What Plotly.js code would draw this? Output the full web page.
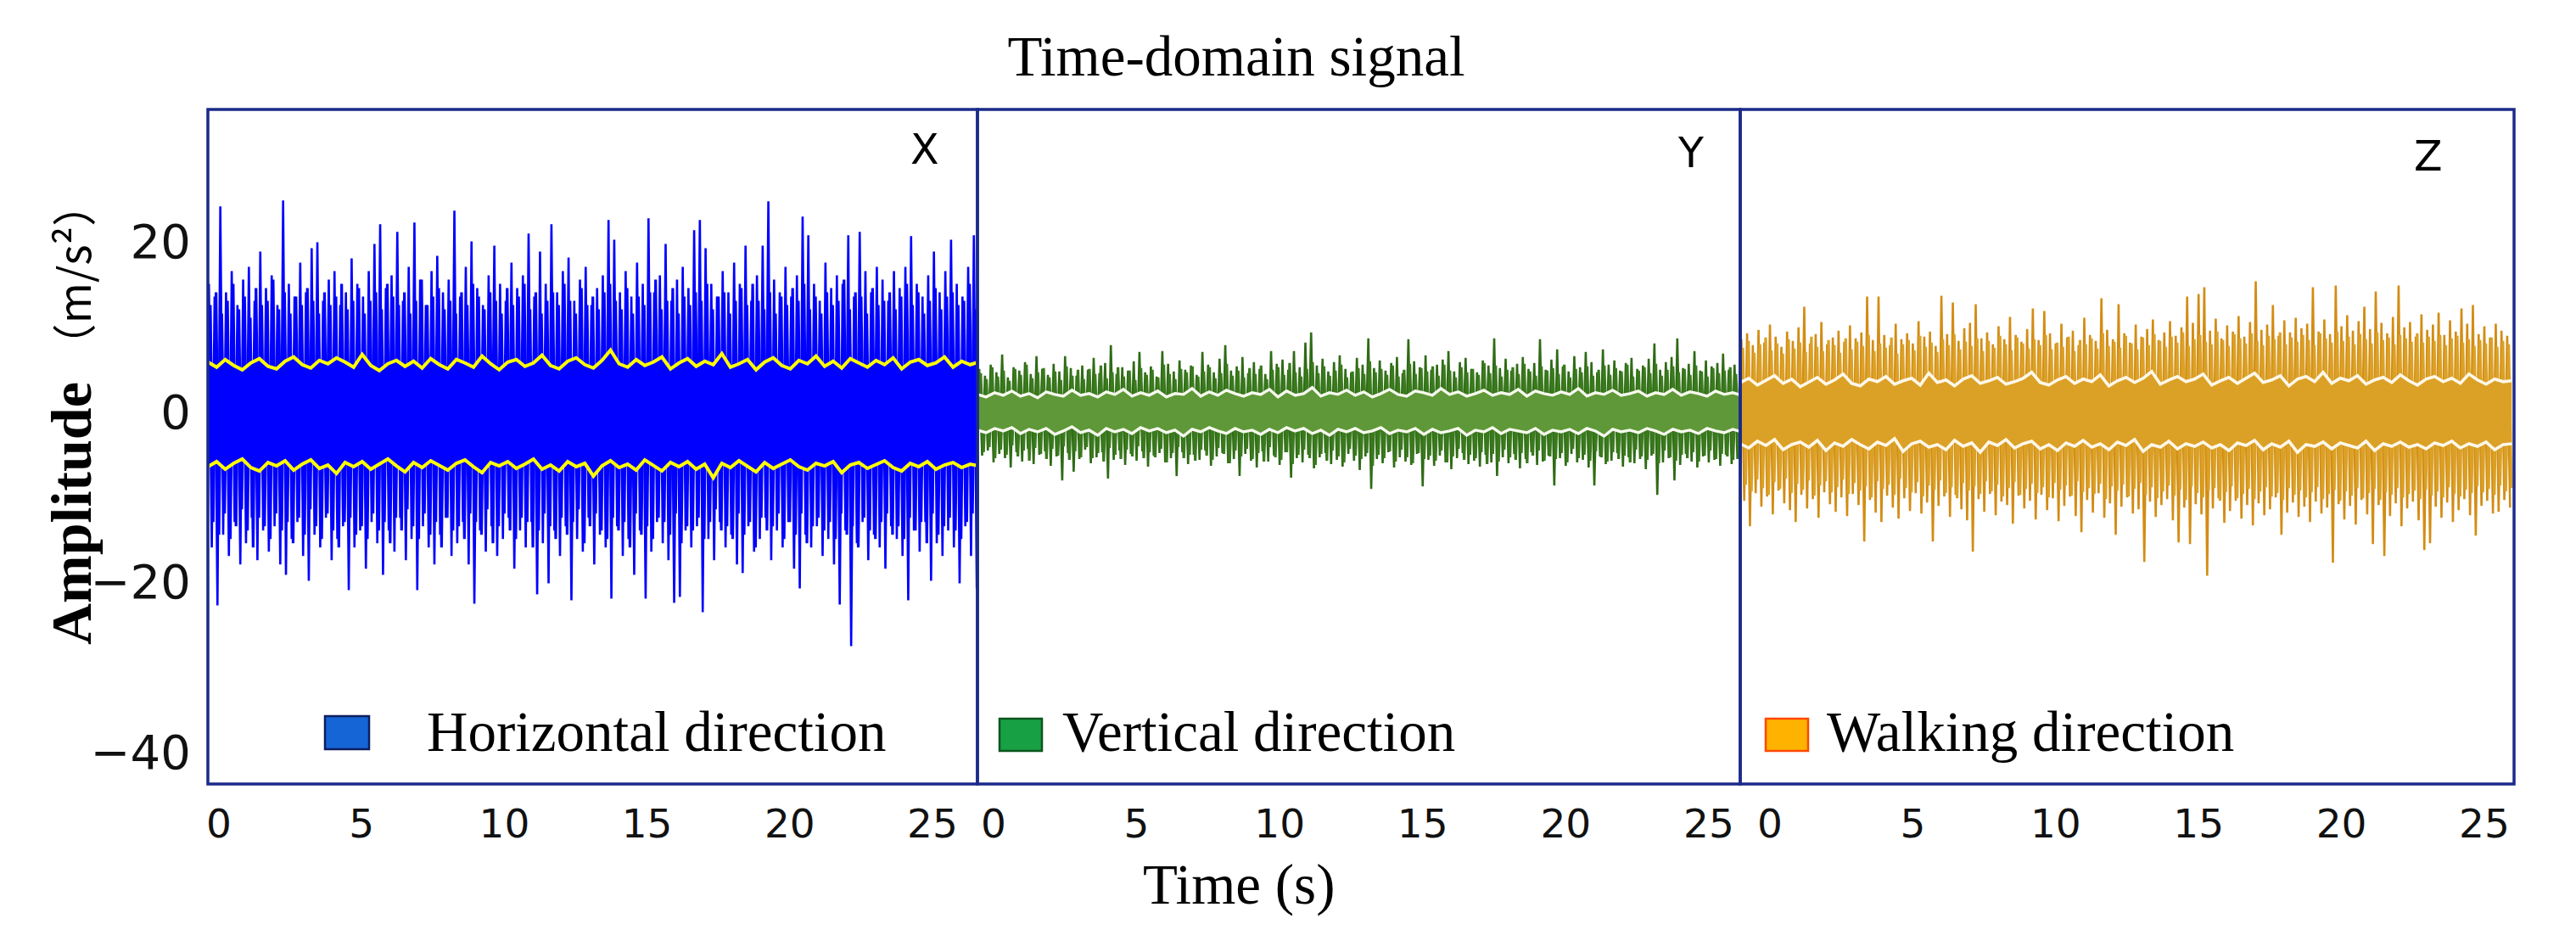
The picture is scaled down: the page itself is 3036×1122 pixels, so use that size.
<!DOCTYPE html>
<html>
<head>
<meta charset="utf-8">
<script src="https://cdn.plot.ly/plotly-3.0.1.min.js"></script>
<style>html,body{margin:0;padding:0;background:#fff;}#chart{width:3036px;height:1122px;}</style>
</head>
<body>
<div id="chart"></div>
<script>
// ---------------- DATA ----------------
const panelNames = ["X", "Y", "Z"];
const legendNames = ["Horizontal direction", "Vertical direction", "Walking direction"];
const xTickVals = [0, 5, 10, 15, 20, 25];
const yTickVals = [20, 0, -20, -40];

// Sampling of the envelopes (seconds)
const SIG_DT = 0.2, LINE_DT = 0.3;
const SIG_T0 = [-0.35, -0.5, -1.0];
const LINE_T0 = [-0.38, -0.56, -1.04];

// X (horizontal): outer spike tops / bottoms
const X_TOP = [15,13.5,24.1,14,16.5,12.5,15.5,17,13,18.8,
14.5,16,12.5,24.8,15,13.5,17.5,14,19.2,19.9,
13,15.5,16.5,12.5,14,18,15,13.5,16.5,19.7,
22,14.5,16,21.1,13,17,22.2,15.5,12.5,16.5,
18.3,14,15.5,23.6,13.5,17,20,14.5,12.5,16,
19.5,15,13,17.5,14.5,16,20.9,13.5,18.8,15,
22,14,16.5,18.1,13,15.5,17,12.5,14.5,16,
22.5,20.2,14,16.5,13.5,17.5,15,22.7,14,16,
19.7,13,15.5,17,14.5,21.3,22.5,19.2,15,13.5,
16.5,14,17.5,15,19.5,13,16,19.5,24.7,15.5,
14,17,13.5,16,22.9,20.7,15,13,17.5,14.5,
16,15,20.7,13.5,21.1,16.5,14,17,15.5,13,
16.5,14.5,17,20.6,15,13.5,16,18.8,14,16.5,
20.2,15,13.5,17,20.7];
const X_BOT = [-16,-22.8,-14.5,-17,-13,-18,-15.5,-12.5,-17.5,-14,
-16.5,-13.5,-18,-19.2,-15,-13,-17,-19.9,-14.5,-16,
-12.5,-17.5,-15,-13.5,-21,-16,-14,-18.5,-13,-15.5,
-19.2,-14,-16.5,-12.5,-17.5,-15,-21,-13.5,-16,-18,
-14.5,-12.5,-17,-15.5,-13,-18,-22.6,-14,-16.5,-13.5,
-17,-15,-12.5,-18.5,-14,-16,-13,-21.5,-15.5,-20.2,
-14,-17,-13.5,-22.2,-15,-16.5,-12.5,-18,-14.5,-16,
-22,-13.5,-17,-15,-19.2,-14,-22,-16.5,-13,-15.5,
-17.5,-22.5,-21.8,-14,-16,-13.5,-23.6,-15,-17.5,-13,
-16,-14.5,-18,-19,-13.5,-16.5,-15,-12.5,-17.5,-14,
-16,-13,-18.5,-20.8,-14.5,-16,-13.5,-17,-15,-18,
-22.7,-14,-27.6,-15.5,-13,-17.5,-14.5,-16,-18.5,-13.5,
-15,-17,-22.2,-14,-16.5,-13,-19.9,-15.5,-17,-14,
-16,-20.2,-13.5,-17,-20.8];
// X: dense inner band tops / bottoms
const X_MID_TOP = [12.5,14,11.5,13,15,12,13.5,11,14.5,12.5,
13,15.5,12,14,11.5,13.5,12.5,14.5,13,11.5,
14,12.5,13.5,15,12,13,14.5,11.5,13,14,
12,15,13.5,12.5,14,11.5,13,15.5,12.5,13.5,
14.5,12,13,11.5,14,12.5,15,13.5,12,14,
13,11.5,14.5,12.5,13.5,15,12,14,11.5,13,
14,12.5,15,13,11.5,14.5,12.5,13.5,12,14,
15,13,12,14.5,11.5,13.5,12.5,14,15.5,12,
13,14.5,11.5,13.5,12.5,14,13,15,12,13.5,
14,11.5,13,14.5,12.5,15,13,12,14,11.5,
13.5,12.5,14.5,13,15,12,13.5,11.5,14,12.5,
13,15.5,12,14,13.5,11.5,14.5,12.5,13,14,
12,13.5,15,12.5,14,11.5,13,14.5,12,13.5,
14,12.5,13,15,12];
const X_MID_BOT = [-13,-14.5,-12,-15,-13.5,-11.5,-14,-16,-12.5,-13.5,
-15,-12,-14,-13,-15.5,-12.5,-14.5,-11.5,-13.5,-15,
-12,-14,-16,-13,-12.5,-14.5,-13.5,-15,-12,-14,
-13,-15.5,-12.5,-14,-11.5,-13.5,-15,-12,-14.5,-13,
-16,-12.5,-14,-13.5,-15,-12,-13,-14.5,-11.5,-15.5,
-13.5,-12,-14,-15,-12.5,-13,-16,-14,-12,-13.5,
-15,-12.5,-14.5,-13,-11.5,-15.5,-13.5,-12,-14,-15,
-12.5,-14,-13,-16,-12,-14.5,-13.5,-15,-12.5,-13,
-14.5,-12,-15.5,-13.5,-14,-12.5,-15,-13,-11.5,-14,
-13.5,-15,-12,-14.5,-13,-16,-12.5,-14,-13.5,-12,
-15,-13,-14.5,-12,-15.5,-13.5,-12.5,-14,-13,-15,
-12,-14.5,-13.5,-16,-12.5,-14,-15,-13,-12,-14.5,
-13.5,-15,-12.5,-14,-13,-15.5,-12,-14.5,-13.5,-12.5,
-14,-15,-13,-12,-14.5];
// X: yellow envelope lines
const X_LINE_UP = [5.8,5.2,6.1,5.4,4.9,5.7,6.2,5.3,5.0,5.9,
6.4,5.5,5.1,6.0,5.6,6.3,5.8,5.2,6.7,5.4,
4.8,5.6,6.0,5.3,5.9,5.1,6.2,5.5,5.0,6.1,
5.7,5.2,6.5,5.6,4.9,5.8,6.1,5.3,5.7,6.6,
5.4,5.0,5.9,6.3,5.5,5.1,6.0,7.2,5.6,5.2,
6.1,5.4,5.8,6.4,5.0,5.7,6.2,5.3,5.9,5.5,
6.8,5.2,5.6,6.1,4.9,5.8,6.3,5.4,5.0,6.0,
5.6,6.5,5.3,5.9,5.1,6.2,5.7,5.2,6.0,5.5,
6.3,5.0,5.8,6.1,5.4,5.7,6.4,5.2,5.9,5.5,
5.8];
const X_LINE_LO = [-6.5,-5.9,-6.8,-6.1,-5.6,-6.6,-7.0,-6.0,-6.4,-5.8,
-6.9,-6.2,-5.7,-6.7,-6.3,-7.3,-6.0,-6.5,-5.9,-6.8,
-6.2,-5.6,-6.4,-7.1,-6.0,-6.6,-5.8,-6.3,-6.9,-6.1,
-5.7,-6.5,-7.2,-6.0,-6.4,-5.9,-6.7,-6.2,-5.6,-6.8,
-6.3,-7.0,-5.9,-6.5,-6.1,-7.6,-6.4,-5.8,-6.6,-6.2,
-6.9,-5.7,-6.3,-7.0,-6.0,-6.5,-5.9,-6.8,-6.2,-7.8,
-6.1,-6.6,-5.8,-6.4,-7.1,-6.0,-6.7,-6.2,-5.7,-6.5,
-6.9,-6.1,-6.4,-5.9,-7.2,-6.3,-6.0,-6.7,-6.2,-5.8,
-6.6,-7.0,-6.1,-6.5,-5.9,-6.8,-6.3,-6.0,-6.6,-6.2,
-6.4];

// Y (vertical)
const Y_TOP = [5.0,4.2,5.5,4.6,6.7,4.0,5.2,4.8,5.8,4.4,
6.5,5.0,4.3,5.6,4.7,6.5,5.1,4.2,5.4,4.9,
6.3,4.5,5.7,7.8,4.4,5.2,4.8,5.9,7.0,4.6,
5.3,4.1,7.1,5.6,4.7,6.0,4.9,5.4,4.3,7.0,
5.5,4.6,6.2,7.8,4.8,5.3,6.4,4.5,5.8,5.0,
4.4,7.1,5.6,6.1,4.9,7.1,5.2,8.1,9.3,5.4,
6.2,4.7,5.8,6.6,5.0,4.6,6.3,5.5,8.6,5.1,
6.0,4.8,5.7,6.4,4.5,8.5,5.9,5.2,6.6,4.9,
5.5,6.1,7.1,4.7,5.8,6.3,5.0,4.6,6.0,5.4,
8.6,5.1,6.2,4.8,5.6,6.4,5.0,5.7,8.5,4.9,
6.1,7.3,5.3,4.7,6.5,5.2,7.0,5.8,4.6,7.3,
5.5,6.0,4.8,5.7,6.3,5.0,5.4,6.2,8.0,4.9,
5.8,6.4,8.6,5.1,5.6,7.1,4.8,6.0,5.3,5.7,
6.8,4.9,5.5,6.1,5.2];
const Y_BOT = [-5.2,-4.6,-6.0,-5.0,-5.5,-6.6,-4.8,-5.9,-4.4,-6.2,
-5.1,-4.7,-6.4,-5.3,-8.1,-4.9,-7.1,-5.6,-4.5,-6.1,
-5.4,-4.8,-7.9,-5.7,-4.6,-6.3,-5.0,-5.8,-4.7,-6.5,
-5.2,-4.9,-6.0,-5.5,-7.6,-4.8,-6.2,-5.1,-5.7,-4.6,
-6.4,-5.3,-4.9,-6.1,-5.6,-7.6,-5.0,-5.8,-6.6,-4.7,
-5.9,-5.2,-6.3,-4.8,-7.8,-5.5,-6.0,-5.1,-6.7,-5.4,
-4.9,-6.2,-5.7,-6.5,-5.0,-5.8,-6.9,-5.3,-9.1,-5.6,
-6.1,-4.8,-6.6,-5.4,-5.9,-6.3,-5.0,-8.8,-5.7,-6.4,
-5.2,-6.0,-6.8,-5.5,-4.9,-6.2,-5.8,-6.5,-5.1,-6.0,
-7.6,-5.4,-6.1,-5.0,-6.7,-5.6,-4.8,-6.3,-5.9,-5.2,
-8.7,-5.5,-6.4,-5.0,-6.0,-5.7,-6.6,-8.7,-5.3,-6.2,
-5.8,-4.9,-6.5,-5.4,-6.1,-5.6,-6.8,-5.2,-9.8,-6.0,
-5.5,-8.1,-6.3,-5.0,-5.9,-6.6,-5.3,-6.0,-5.7,-6.4,
-5.1,-6.2,-5.6,-6.9,-5.4];
const Y_MID_TOP = [4.5,3.8,5.2,4.1,4.8,3.6,5.0,4.3,5.5,3.9,
4.6,5.1,4.0,4.7,3.7,5.3,4.2,4.9,3.8,5.0,
4.4,5.4,3.9,4.6,5.2,4.1,4.8,3.7,5.1,4.3,
4.9,4.0,5.5,4.4,3.8,5.0,4.6,5.3,4.1,4.7,
5.2,3.9,4.5,5.6,4.2,4.8,4.0,5.1,4.4,5.4,
3.8,4.9,5.2,4.3,5.7,4.6,4.1,5.0,5.8,4.5,
5.3,4.2,4.8,5.5,4.0,4.7,5.1,4.4,5.9,4.6,
5.0,4.3,5.4,4.1,4.9,5.6,4.4,5.1,4.7,5.3,
4.2,5.5,4.8,4.0,5.2,4.6,5.0,4.3,5.7,4.5,
5.4,4.1,4.9,5.2,4.4,5.6,4.7,4.2,5.3,4.8,
5.1,4.4,5.5,4.0,5.0,4.6,5.3,4.2,4.9,5.4,
4.3,5.1,4.7,5.5,4.1,4.8,5.2,4.5,5.6,4.2,
4.9,5.3,4.6,5.0,4.3,5.4,4.7,4.1,5.1,4.5,
4.8,5.2,4.4,4.9,4.6];
const Y_MID_BOT = [-4.8,-4.2,-5.5,-4.5,-5.1,-4.0,-5.3,-4.6,-5.8,-4.3,
-5.0,-5.6,-4.4,-5.2,-4.1,-5.7,-4.7,-5.4,-4.2,-5.5,
-4.9,-5.9,-4.3,-5.1,-5.6,-4.5,-5.3,-4.1,-5.5,-4.8,
-5.4,-4.4,-6.0,-4.9,-4.2,-5.5,-5.1,-5.8,-4.5,-5.2,
-5.7,-4.3,-5.0,-6.1,-4.6,-5.3,-4.4,-5.6,-4.9,-5.9,
-4.2,-5.4,-5.7,-4.8,-6.2,-5.1,-4.5,-5.5,-6.3,-5.0,
-5.8,-4.6,-5.3,-6.0,-4.4,-5.2,-5.6,-4.9,-6.4,-5.1,
-5.5,-4.7,-5.9,-4.5,-5.4,-6.1,-4.9,-5.6,-5.2,-5.8,
-4.6,-6.0,-5.3,-4.4,-5.7,-5.1,-5.5,-4.8,-6.2,-5.0,
-5.9,-4.5,-5.4,-5.7,-4.9,-6.1,-5.2,-4.6,-5.8,-5.3,
-5.6,-4.9,-6.0,-4.4,-5.5,-5.1,-5.8,-4.7,-5.4,-5.9,
-4.8,-5.6,-5.2,-6.0,-4.5,-5.3,-5.7,-5.0,-6.1,-4.6,
-5.4,-5.8,-5.1,-5.5,-4.8,-5.9,-5.2,-4.6,-5.6,-5.0,
-5.3,-5.7,-4.9,-5.4,-5.1];
const Y_LINE_UP = [2.0,1.7,2.2,1.9,2.4,1.8,2.1,1.6,2.3,2.0,
1.8,2.5,1.9,2.1,1.7,2.3,2.0,2.6,1.8,2.2,
1.9,2.4,1.7,2.1,2.0,2.7,1.8,2.3,1.9,2.5,
2.1,1.8,2.2,2.0,2.6,1.7,2.4,1.9,2.1,2.8,
1.8,2.2,2.0,2.5,1.9,2.3,1.7,2.1,2.6,2.0,
1.8,2.4,2.2,1.9,2.7,2.0,2.3,1.8,2.1,2.5,
1.9,2.2,2.0,2.6,1.8,2.4,2.1,1.9,2.3,2.0,
2.7,1.8,2.2,2.0,2.5,1.9,2.1,2.4,1.8,2.2,
2.0,2.6,1.9,2.3,2.1,1.8,2.4,2.0,2.2,1.9,
2.1];
const Y_LINE_LO = [-2.2,-2.5,-2.0,-2.3,-1.9,-2.6,-2.1,-2.4,-2.0,-2.7,
-2.3,-1.8,-2.5,-2.2,-2.8,-2.0,-2.4,-2.1,-2.6,-1.9,
-2.3,-2.0,-2.5,-2.2,-2.9,-2.1,-2.4,-1.9,-2.3,-2.6,
-2.0,-2.4,-2.2,-2.7,-2.1,-2.5,-1.9,-2.3,-2.0,-2.6,
-2.2,-2.8,-2.1,-2.4,-2.0,-2.5,-2.3,-1.9,-2.6,-2.2,
-2.4,-2.0,-2.7,-2.1,-2.5,-2.3,-2.0,-2.8,-2.2,-2.4,
-1.9,-2.6,-2.1,-2.3,-2.5,-2.0,-2.7,-2.2,-2.4,-2.1,
-2.6,-2.0,-2.3,-2.9,-2.1,-2.4,-2.2,-2.5,-2.0,-2.3,
-2.7,-2.1,-2.4,-2.2,-2.6,-2.0,-2.3,-2.5,-2.1,-2.4,
-2.2];

// Z (walking)
const Z_TOP = [8.5,9.2,7.8,9.6,8.1,10.2,8.8,7.6,9.4,8.3,
9.9,12.3,8.0,9.1,10.5,7.9,8.7,9.5,8.2,10.1,
8.6,9.3,13.5,8.4,13.5,9.0,7.8,10.3,8.5,9.2,
8.0,10.6,8.8,9.4,7.7,13.6,9.1,12.8,8.3,9.8,
10.4,12.6,8.6,9.3,7.9,10.0,8.5,11.1,9.0,8.2,
9.7,12.1,8.4,11.8,9.2,8.0,10.3,8.7,9.5,7.8,
11.0,9.0,8.3,13.3,9.6,8.5,12.6,9.2,8.1,10.2,
8.8,9.7,10.8,8.4,9.3,10.6,8.9,9.9,13.5,10.4,
13.8,14.6,9.5,10.9,8.6,10.1,9.4,11.2,8.8,10.5,
15.3,9.6,10.2,12.5,8.9,10.7,9.3,11.0,9.8,10.3,
14.6,9.4,10.8,9.1,14.8,10.0,11.3,9.5,10.6,12.3,
9.7,14.1,10.4,9.2,11.1,14.8,9.9,10.5,8.8,11.4,
9.6,10.2,11.6,9.0,10.7,9.4,12.1,10.3,12.5,9.1,
10.0,8.7,10.3,9.5,8.9];
const Z_BOT = [-10.5,-13.5,-9.6,-11.2,-10.0,-12.1,-9.3,-10.8,-11.6,-13.0,
-9.8,-11.4,-10.3,-12.5,-9.5,-10.9,-11.8,-10.1,-12.3,-9.7,
-11.0,-15.3,-10.4,-11.9,-13.0,-9.9,-11.3,-12.6,-10.2,-11.7,
-9.6,-12.0,-10.7,-15.3,-11.1,-10.0,-12.4,-9.8,-11.5,-12.8,
-16.5,-10.3,-11.8,-9.7,-12.2,-10.6,-11.0,-13.2,-9.9,-11.4,
-10.5,-12.7,-9.8,-11.6,-10.2,-12.9,-11.1,-10.0,-12.3,-14.2,
-10.4,-11.9,-9.6,-12.5,-10.8,-14.5,-11.2,-10.1,-12.0,-11.5,
-17.7,-10.6,-12.4,-11.0,-10.3,-12.8,-15.4,-11.3,-15.6,-10.9,
-12.1,-19.3,-11.4,-10.2,-13.1,-11.7,-10.5,-12.6,-11.0,-13.4,
-10.8,-12.2,-11.5,-10.1,-14.5,-11.9,-10.7,-12.4,-11.2,-13.0,
-10.6,-12.0,-11.3,-17.8,-10.9,-12.7,-11.1,-13.3,-10.4,-12.1,
-15.6,-11.0,-17.0,-12.3,-10.8,-13.5,-11.4,-10.6,-12.8,-16.3,
-15.5,-11.2,-12.5,-10.7,-13.0,-11.6,-10.3,-12.2,-14.6,-11.1,
-10.5,-12.0,-11.8,-10.4,-11.3];
const Z_MID_TOP = [7.5,8.3,6.9,7.9,8.7,7.2,8.0,6.8,8.5,7.4,
8.1,7.0,8.8,7.6,7.1,8.4,7.8,6.9,8.6,7.3,
8.2,7.7,9.0,7.1,8.0,7.5,8.7,6.8,7.9,8.4,
7.2,8.9,7.6,8.1,7.0,8.5,7.8,9.1,7.3,8.2,
7.7,8.6,7.1,8.3,7.5,8.9,7.9,7.2,8.7,8.0,
7.4,8.5,7.8,9.0,7.3,8.1,7.6,8.8,7.1,8.4,
7.9,8.6,7.4,9.2,7.7,8.2,7.5,8.9,8.0,7.3,
8.7,7.8,9.1,8.3,7.6,8.8,8.1,9.3,7.7,8.5,
9.0,8.2,7.9,9.4,8.4,7.7,9.1,8.6,8.0,9.2,
8.3,7.8,8.9,8.5,9.3,7.9,8.7,8.2,9.0,8.4,
7.8,9.2,8.6,8.1,9.4,8.3,8.8,7.9,9.1,8.5,
8.0,9.3,8.4,8.7,7.9,9.0,8.6,8.2,9.2,8.1,
8.8,8.3,9.0,7.8,8.6,8.9,8.1,8.5,7.7,8.4,
8.0,8.7,7.6,8.3,7.9];
const Z_MID_BOT = [-8.6,-9.4,-8.0,-9.0,-9.8,-8.3,-9.1,-7.9,-9.6,-8.5,
-9.2,-8.1,-9.9,-8.7,-8.2,-9.5,-8.9,-8.0,-9.7,-8.4,
-9.3,-8.8,-10.1,-8.2,-9.1,-8.6,-9.8,-7.9,-9.0,-9.5,
-8.3,-10.0,-8.7,-9.2,-8.1,-9.6,-8.9,-10.2,-8.4,-9.3,
-8.8,-9.7,-8.2,-9.4,-8.6,-10.0,-9.0,-8.3,-9.8,-9.1,
-8.5,-9.6,-8.9,-10.1,-8.4,-9.2,-8.7,-9.9,-8.2,-9.5,
-9.0,-9.7,-8.5,-10.3,-8.8,-9.3,-8.6,-10.0,-9.1,-8.4,
-9.8,-8.9,-10.2,-9.4,-8.7,-9.9,-9.2,-10.4,-8.8,-9.6,
-10.1,-9.3,-9.0,-10.5,-9.5,-8.8,-10.2,-9.7,-9.1,-10.3,
-9.4,-8.9,-10.0,-9.6,-10.4,-9.0,-9.8,-9.3,-10.1,-9.5,
-8.9,-10.3,-9.7,-9.2,-10.5,-9.4,-9.9,-9.0,-10.2,-9.6,
-9.1,-10.4,-9.5,-9.8,-9.0,-10.1,-9.7,-9.3,-10.3,-9.2,
-9.9,-9.4,-10.1,-8.9,-9.7,-10.0,-9.2,-9.6,-8.8,-9.5,
-9.1,-9.8,-8.7,-9.4,-9.0];
const Z_LINE_UP = [3.4,3.9,3.1,3.6,4.2,3.3,3.8,2.9,3.5,4.0,
3.2,3.7,4.4,3.3,3.0,3.8,3.5,4.1,3.2,3.6,
3.9,3.1,4.5,3.4,3.7,3.0,3.8,4.2,3.3,3.6,
4.0,3.2,3.5,3.9,4.6,3.4,3.1,3.7,4.1,3.3,
3.8,3.5,4.3,3.0,3.6,4.0,3.4,3.9,4.7,3.2,
3.7,4.1,3.5,3.8,4.4,3.1,3.6,4.0,3.3,3.9,
4.5,3.4,3.7,4.2,3.0,3.8,4.1,3.5,4.6,3.3,
3.9,3.6,4.2,3.2,3.7,4.0,3.4,4.3,3.6,3.1,
3.8,4.1,3.5,3.9,3.3,4.4,3.7,3.2,3.8,3.5,
3.6];
const Z_LINE_LO = [-3.8,-4.3,-3.5,-4.0,-3.3,-4.5,-3.9,-3.6,-4.2,-3.4,
-4.6,-3.7,-4.1,-3.3,-3.9,-4.4,-3.6,-4.0,-3.2,-4.7,
-3.8,-3.5,-4.2,-3.9,-4.5,-3.4,-4.1,-3.7,-4.8,-3.6,
-4.0,-3.3,-4.3,-3.8,-3.5,-4.4,-3.9,-4.6,-3.7,-4.1,
-3.4,-4.2,-3.8,-4.5,-3.6,-4.0,-3.3,-4.7,-3.9,-4.2,
-3.5,-4.4,-3.8,-4.1,-3.6,-4.3,-3.9,-4.6,-3.7,-4.0,
-3.4,-4.5,-3.8,-4.2,-3.5,-4.8,-3.9,-4.1,-3.6,-4.4,
-3.7,-4.0,-4.3,-3.5,-4.6,-3.8,-4.1,-3.6,-4.2,-3.9,
-4.4,-3.7,-4.0,-3.5,-4.3,-3.8,-4.1,-3.6,-4.5,-3.9,
-3.8];

// ---------------- STYLE / LAYOUT ----------------
const W = 3036, H = 1122;
const PL = 245, PR = 2963, PT = 129, PB = 924;
const PW = PR - PL, PH = PB - PT;
const px = x => (x - PL) / PW;
const py = y => (PB - y) / PH;

const SERIF = "Liberation Serif, Times New Roman, serif";
const SANS = "DejaVu Sans, Arial, sans-serif";
const FRAME = "#1b2a8a";

const panels = [
  {top: X_TOP, bot: X_BOT, mt: X_MID_TOP, mb: X_MID_BOT, lu: X_LINE_UP, ll: X_LINE_LO,
   spike: "#0000ff", mid: "#0000ff", band: "#0000ff", line: "#ffff00", lw: 4, xa: "x"},
  {top: Y_TOP, bot: Y_BOT, mt: Y_MID_TOP, mb: Y_MID_BOT, lu: Y_LINE_UP, ll: Y_LINE_LO,
   spike: "#2f6b16", mid: "#3a7a1d", band: "#5f9838", line: "#f6f9ee", lw: 3.4, xa: "x2"},
  {top: Z_TOP, bot: Z_BOT, mt: Z_MID_TOP, mb: Z_MID_BOT, lu: Z_LINE_UP, ll: Z_LINE_LO,
   spike: "#d38c14", mid: "#dba126", band: "#dba126", line: "#fff8ea", lw: 3.6, xa: "x3"}
];

function zigzag(top, bot, t0, dt, off) {
  const x = [], y = [];
  for (let i = 0; i < top.length; i++) {
    x.push(t0 + (i + off) * dt); y.push(top[i]);
    x.push(t0 + (i + off + 0.5) * dt); y.push(bot[i]);
  }
  return {x, y};
}

const traces = [];
panels.forEach((p, k) => {
  const outer = zigzag(p.top, p.bot, SIG_T0[k], SIG_DT, 0);
  traces.push({type: "scatter", mode: "lines", x: outer.x, y: outer.y, xaxis: p.xa, yaxis: "y",
    line: {color: p.spike, width: 2.6}, hoverinfo: "skip", showlegend: false});
  const inner = zigzag(p.mt, p.mb, SIG_T0[k], SIG_DT, 0.25);
  traces.push({type: "scatter", mode: "lines", x: inner.x, y: inner.y, xaxis: p.xa, yaxis: "y",
    line: {color: p.mid, width: 3.2}, hoverinfo: "skip", showlegend: false});
  const lt = p.lu.map((_, i) => LINE_T0[k] + i * LINE_DT);
  // solid band between the two envelope lines
  traces.push({type: "scatter", mode: "lines", x: lt, y: p.ll, xaxis: p.xa, yaxis: "y",
    line: {width: 0, color: p.band}, hoverinfo: "skip", showlegend: false});
  traces.push({type: "scatter", mode: "lines", x: lt, y: p.lu, xaxis: p.xa, yaxis: "y",
    fill: "tonexty", fillcolor: p.band, line: {width: 0, color: p.band}, hoverinfo: "skip", showlegend: false});
  [p.lu, p.ll].forEach(arr => traces.push({type: "scatter", mode: "lines", x: lt, y: arr,
    xaxis: p.xa, yaxis: "y", line: {color: p.line, width: p.lw}, hoverinfo: "skip", showlegend: false}));
});

const d1 = px(1152), d2 = px(2051);
const xRanges = [[-0.386, 26.575], [-0.563, 26.1], [-1.04, 26.04]];
const xCommon = {tickvals: xTickVals, ticktext: xTickVals.map(String), showgrid: false, zeroline: false,
  showline: false, ticks: "outside", ticklen: 6, tickcolor: "rgba(0,0,0,0)",
  tickfont: {family: SANS, size: 47, color: "#111"}, fixedrange: true};

const shapes = [];
["x", "x2", "x3"].forEach(a => shapes.push({type: "rect", xref: a + " domain", yref: "y domain",
  x0: 0, x1: 1, y0: 0, y1: 1, line: {color: FRAME, width: 3.5}, layer: "above"}));

const legendBoxes = [
  {x0: 383, x1: 435, y0: 844, y1: 883, fill: "#1665d6", border: "#0c1f5e", tx: 501},
  {x0: 1178, x1: 1228, y0: 847, y1: 885, fill: "#18a045", border: "#0b561d", tx: 1250},
  {x0: 2081, x1: 2131, y0: 847, y1: 885, fill: "#ffb300", border: "#ff4800", tx: 2151}
];
const annotations = [];
legendBoxes.forEach((b, k) => {
  shapes.push({type: "rect", xref: "paper", yref: "paper", x0: px(b.x0), x1: px(b.x1),
    y0: py(b.y1), y1: py(b.y0), fillcolor: b.fill, line: {color: b.border, width: 2.5}, layer: "above"});
  annotations.push({xref: "paper", yref: "paper", x: px(b.tx), y: py(862), xanchor: "left", yanchor: "middle",
    text: legendNames[k], showarrow: false, font: {family: SERIF, size: 67, color: "#000"}});
});

const labelPos = [[1090, 176], [1993, 180], [2862, 184]];
labelPos.forEach((pp, k) => annotations.push({xref: "paper", yref: "paper", x: px(pp[0]), y: py(pp[1]),
  xanchor: "center", yanchor: "middle", text: panelNames[k], showarrow: false,
  font: {family: SANS, size: 49, color: "#000"}}));

annotations.push({xref: "paper", yref: "paper", x: px(1460), y: py(1042), xanchor: "center", yanchor: "middle",
  text: "Time (s)", showarrow: false, font: {family: SERIF, size: 67, color: "#000"}});
annotations.push({xref: "paper", yref: "paper", x: px(84), y: py(488), xanchor: "center", yanchor: "middle",
  textangle: -90, showarrow: false,
  text: "<b>Amplitude</b> <span style=\"font-family:'Noto Sans CJK SC','DejaVu Sans',sans-serif;font-size:52px\">（m/s²）</span>",
  font: {family: SERIF, size: 68, color: "#000"}});

const layout = {
  width: W, height: H,
  margin: {l: PL, r: W - PR, t: PT, b: H - PB, pad: 0},
  paper_bgcolor: "#fff", plot_bgcolor: "#fff",
  showlegend: false, hovermode: false,
  title: {text: "Time-domain signal", x: 1457 / W, xanchor: "center", xref: "container",
    y: 1 - 66 / H, yanchor: "middle", yref: "container", font: {family: SERIF, size: 67, color: "#000"}},
  xaxis: Object.assign({}, xCommon, {domain: [0, d1], range: xRanges[0], anchor: "y"}),
  xaxis2: Object.assign({}, xCommon, {domain: [d1, d2], range: xRanges[1], anchor: "y"}),
  xaxis3: Object.assign({}, xCommon, {domain: [d2, 1], range: xRanges[2], anchor: "y"}),
  yaxis: {domain: [0, 1], range: [-43.8, 35.5], anchor: "x", tickvals: yTickVals,
    ticktext: yTickVals.map(v => v < 0 ? "\u2212" + Math.abs(v) : String(v)),
    showgrid: false, zeroline: false, showline: false, ticks: "outside", ticklen: 8,
    tickcolor: "rgba(0,0,0,0)", tickfont: {family: SANS, size: 56, color: "#111"}, fixedrange: true},
  shapes: shapes,
  annotations: annotations
};

Plotly.newPlot("chart", traces, layout, {staticPlot: true, displayModeBar: false});
</script>
</body>
</html>
